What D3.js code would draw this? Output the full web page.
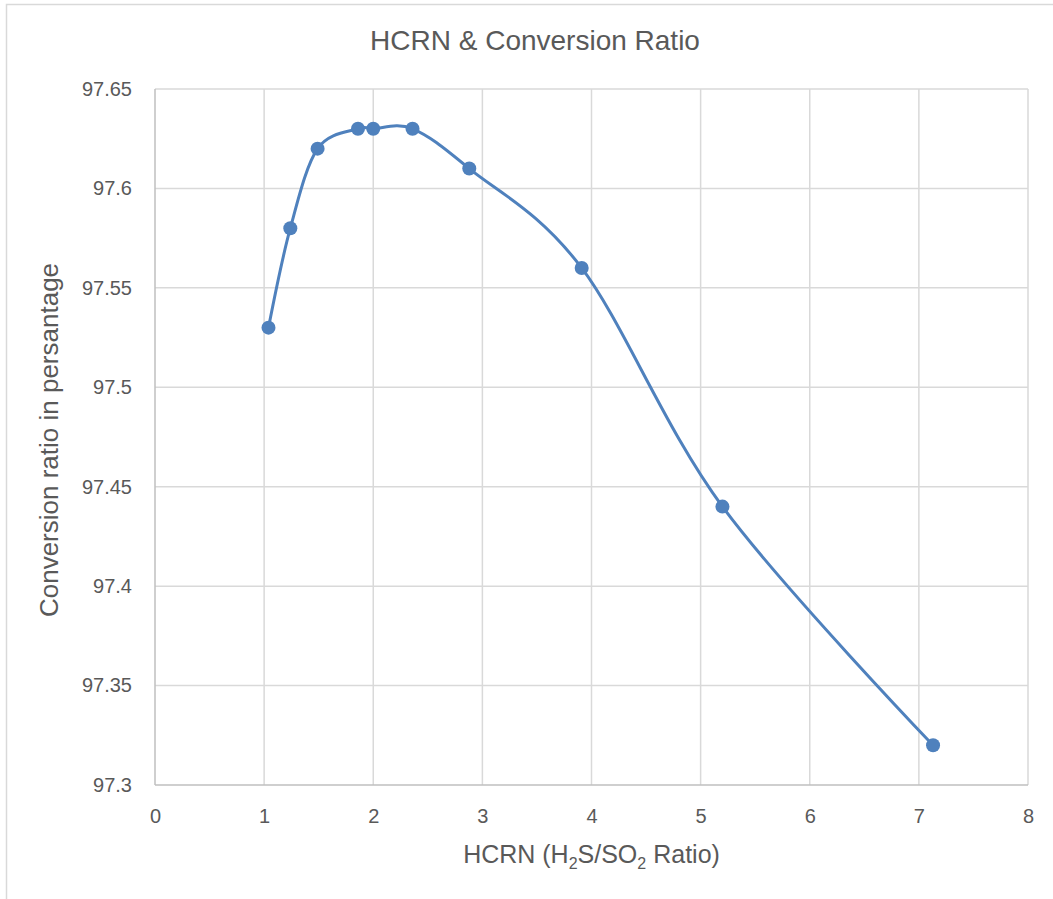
<!DOCTYPE html>
<html>
<head>
<meta charset="utf-8">
<script src="https://cdn.jsdelivr.net/npm/d3@7"></script>
<style>
  html, body { margin: 0; padding: 0; background: #fff; }
  svg { display: block; }
  text { font-family: "Liberation Sans", Arial, sans-serif; fill: #595959; }
</style>
</head>
<body>
<script>
// ---- data ----
const hcrn = [1.04, 1.24, 1.49, 1.86, 2.0, 2.36, 2.88, 3.91, 5.2, 7.13];
const conversion = [97.53, 97.58, 97.62, 97.63, 97.63, 97.63, 97.61, 97.56, 97.44, 97.32];
const xTicks = [0, 1, 2, 3, 4, 5, 6, 7, 8];
const yTicks = [97.3, 97.35, 97.4, 97.45, 97.5, 97.55, 97.6, 97.65];
const titleText = "HCRN & Conversion Ratio";
const yTitleText = "Conversion ratio in persantage";

const W = 1053, H = 899;
const m = { left: 155, right: 1028, top: 89, bottom: 785 };

const svg = d3.select("body").append("svg").attr("width", W).attr("height", H);

// chart frame (only top & left visible)
svg.append("rect").attr("x", 6.5).attr("y", 4.5).attr("width", 1200).attr("height", 1200)
  .attr("fill", "none").attr("stroke", "#d9d9d9").attr("stroke-width", 1.5);

const x = d3.scaleLinear().domain([0, 8]).range([m.left, m.right]);
const y = d3.scaleLinear().domain([97.3, 97.65]).range([m.bottom, m.top]);

// gridlines
svg.append("g").selectAll("line").data(xTicks.filter(d => d > 0)).join("line")
  .attr("x1", d => x(d)).attr("x2", d => x(d)).attr("y1", m.top).attr("y2", m.bottom)
  .attr("stroke", "#d9d9d9").attr("stroke-width", 1.5);
svg.append("g").selectAll("line").data(yTicks.filter(d => d > 97.3)).join("line")
  .attr("x1", m.left).attr("x2", m.right).attr("y1", d => y(d)).attr("y2", d => y(d))
  .attr("stroke", "#d9d9d9").attr("stroke-width", 1.5);

// axes lines
svg.append("line").attr("x1", m.left).attr("x2", m.right).attr("y1", m.bottom).attr("y2", m.bottom)
  .attr("stroke", "#bfbfbf").attr("stroke-width", 1.5);
svg.append("line").attr("x1", m.left).attr("x2", m.left).attr("y1", m.top).attr("y2", m.bottom)
  .attr("stroke", "#bfbfbf").attr("stroke-width", 1.5);

// x axis via d3 axis
const xAxis = svg.append("g").attr("transform", `translate(0,${m.bottom})`)
  .call(d3.axisBottom(x).tickValues(xTicks).tickFormat(d3.format("d")).tickSize(0).tickPadding(24));
xAxis.select(".domain").remove();
xAxis.selectAll("text").style("font-size", "20px").attr("fill", "#595959");

const yAxis = svg.append("g").attr("transform", `translate(${m.left},0)`)
  .call(d3.axisLeft(y).tickValues(yTicks).tickFormat(d => +d.toFixed(2) + "").tickSize(0).tickPadding(23));
yAxis.select(".domain").remove();
yAxis.selectAll("text").style("font-size", "20px").attr("fill", "#595959");

// titles
svg.append("text").attr("x", 535).attr("y", 50).attr("text-anchor", "middle")
  .style("font-size", "28px").text(titleText);

const xt = svg.append("text").attr("x", (m.left + m.right) / 2).attr("y", 863)
  .attr("text-anchor", "middle").style("font-size", "25px");
xt.append("tspan").text("HCRN (H");
xt.append("tspan").attr("dy", 6).style("font-size", "16px").text("2");
xt.append("tspan").attr("dy", -6).text("S/SO");
xt.append("tspan").attr("dy", 6).style("font-size", "16px").text("2");
xt.append("tspan").attr("dy", -6).text(" Ratio)");

svg.append("text").attr("transform", `translate(58,${(m.top + m.bottom) / 2 + 3}) rotate(-90)`)
  .attr("text-anchor", "middle").style("font-size", "26px").text(yTitleText);

// line
const pts = hcrn.map((d, i) => [d, conversion[i]]);
svg.append("path").datum(pts)
  .attr("d", d3.line().x(d => x(d[0])).y(d => y(d[1])).curve(d3.curveCatmullRom.alpha(0)))
  .attr("fill", "none").attr("stroke", "#4f81bd").attr("stroke-width", 3);

svg.append("g").selectAll("circle").data(pts).join("circle")
  .attr("cx", d => x(d[0])).attr("cy", d => y(d[1])).attr("r", 7)
  .attr("fill", "#4f81bd");
</script>
</body>
</html>
